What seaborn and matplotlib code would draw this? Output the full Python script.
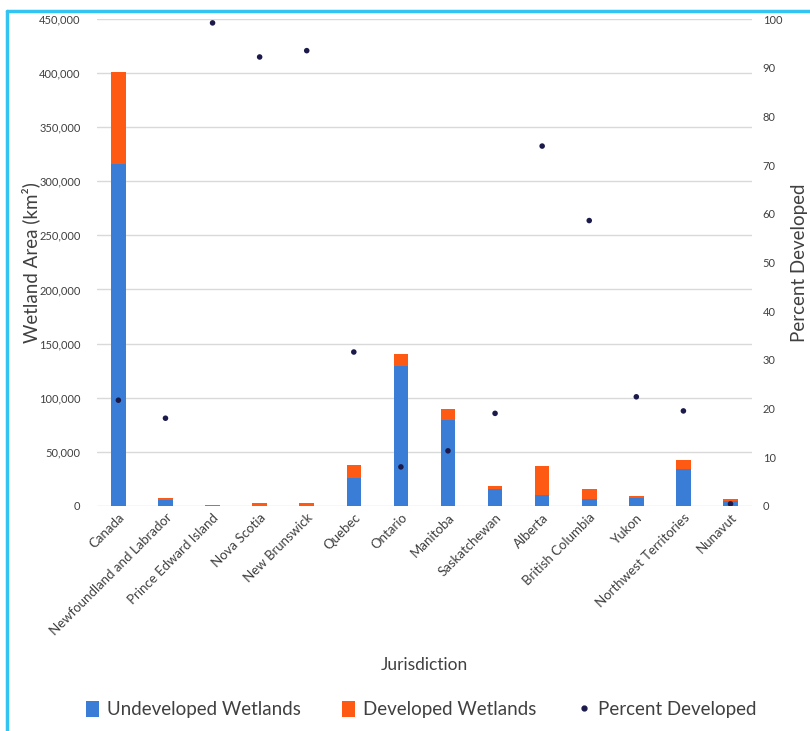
import numpy as np
import pandas as pd
import matplotlib
matplotlib.use("Agg")
import matplotlib.pyplot as plt
import seaborn as sns
from matplotlib.lines import Line2D
from matplotlib.patches import Patch

# wetland area by jurisdiction (km2) and percent developed
jurisdictions = ["Canada", "Newfoundland and Labrador", "Prince Edward Island",
                 "Nova Scotia", "New Brunswick", "Quebec", "Ontario", "Manitoba",
                 "Saskatchewan", "Alberta", "British Columbia", "Yukon",
                 "Northwest Territories", "Nunavut"]
undeveloped = [315700, 5600, 10, 250, 150, 25300, 129600, 79000,
               15400, 9900, 6500, 6800, 34000, 4900]
developed = [84900, 1400, 600, 2700, 2200, 12400, 11100, 10500,
             3100, 26900, 9200, 2200, 8600, 1500]
percent_developed = [21.7, 18.0, 99.2, 92.2, 93.5, 31.6, 8.0, 11.3,
                     19.0, 73.9, 58.6, 22.4, 19.5, 0.4]

df = pd.DataFrame({"Jurisdiction": jurisdictions,
                   "Undeveloped": undeveloped,
                   "Developed": developed,
                   "Percent": percent_developed})
df["Total"] = df["Undeveloped"] + df["Developed"]

blue = "#3a7dd6"
orange = "#ff5a14"
navy = "#1c1a4a"
grey_txt = "#404040"

sns.set_style("white")
plt.rcParams["font.family"] = ["Lato", "DejaVu Sans"]

fig = plt.figure(figsize=(8.1, 7.31), dpi=100)
ax = fig.add_axes([0.12, 0.308, 0.808, 0.666])

# stacked bars: total (orange) underneath, undeveloped (blue) on top
sns.barplot(data=df, x="Jurisdiction", y="Total", color=orange, width=0.31,
            saturation=1, linewidth=0, ax=ax)
sns.barplot(data=df, x="Jurisdiction", y="Undeveloped", color=blue, width=0.31,
            saturation=1, linewidth=0, ax=ax)

ax.set_ylim(0, 450000)
ax.set_yticks(np.arange(0, 450001, 50000))
ax.yaxis.set_major_formatter(matplotlib.ticker.FuncFormatter(lambda v, p: f"{v:,.0f}"))
ax.grid(axis="y", color="#d9d9d9", linewidth=1)
ax.set_axisbelow(True)
for s in ax.spines.values():
    s.set_visible(False)
ax.tick_params(axis="y", labelsize=8, colors=grey_txt, length=0, pad=12)
ax.tick_params(axis="x", labelsize=9.5, colors=grey_txt, length=0, pad=4)
plt.setp(ax.get_xticklabels(), rotation=45, ha="right", rotation_mode="anchor")
ax.set_xlim(-0.45, 13.45)
ax.set_ylabel("Wetland Area (km²)", fontsize=13.5, color=grey_txt, labelpad=-1)
ax.set_xlabel("Jurisdiction", fontsize=12.5, color=grey_txt, labelpad=14)

# percent developed on the right axis
ax2 = ax.twinx()
sns.scatterplot(x=np.arange(len(jurisdictions)), y=df["Percent"], color=navy,
                s=16, edgecolor="none", ax=ax2, zorder=5)
ax2.set_ylim(0, 100)
ax2.set_yticks(np.arange(0, 101, 10))
for s in ax2.spines.values():
    s.set_visible(False)
ax2.tick_params(axis="y", labelsize=8, colors=grey_txt, length=0, pad=8)
ax2.set_ylabel("Percent Developed", fontsize=13.5, color=grey_txt, labelpad=6)

handles = [Patch(facecolor=blue, edgecolor="none"),
           Patch(facecolor=orange, edgecolor="none"),
           Line2D([], [], marker="o", linestyle="none", color=navy, markersize=3.5)]
fig.legend(handles, ["Undeveloped Wetlands", "Developed Wetlands", "Percent Developed"],
           loc="center", bbox_to_anchor=(0.52, 0.029), ncol=3, frameon=False,
           fontsize=13.5, handlelength=0.7, handleheight=0.9, handletextpad=0.4,
           columnspacing=2.2, labelcolor=grey_txt)

# light blue frame (top and left edges visible)
frame_col = "#33c4f2"
fig.add_artist(Line2D([7 / 810, 7 / 810], [0, 1 - 11 / 731], color=frame_col,
                      linewidth=2.5, transform=fig.transFigure))
fig.add_artist(Line2D([7 / 810, 1], [1 - 11 / 731, 1 - 11 / 731], color=frame_col,
                      linewidth=2.5, transform=fig.transFigure))

fig.savefig("out.png", dpi=100)
